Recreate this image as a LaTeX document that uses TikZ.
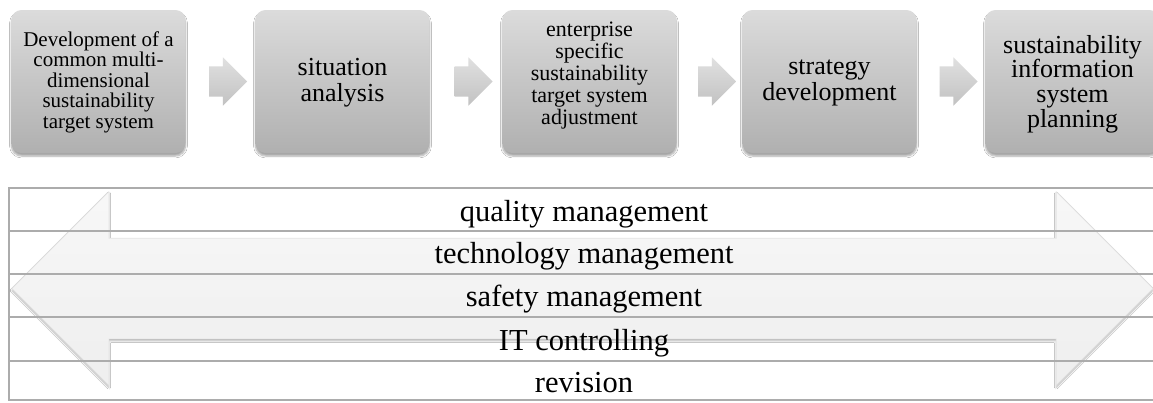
\documentclass[tikz,border=0pt]{standalone}
\usepackage{fontspec}
\setmainfont{Liberation Serif}
\usetikzlibrary{shapes.arrows,shadows.blur,calc}
\begin{document}
\begin{tikzpicture}[x=1pt,y=-1pt,
  stepbox/.style={rectangle, rounded corners=10pt, minimum width=174pt, minimum height=143pt,
    top color=gray!28, bottom color=gray!62, draw=none,
    blur shadow={shadow xshift=0pt, shadow yshift=-3pt, shadow opacity=35, shadow blur steps=6},
    inner sep=0pt},
  boxtext/.style={align=center, text=black, inner sep=0pt},
  flowarrow/.style={single arrow, single arrow head extend=9pt, minimum height=38pt,
    inner xsep=0pt, inner ysep=15pt,
    top color=gray!24, bottom color=gray!48, draw=none},
  bigarrow/.style={double arrow, double arrow head extend=46.5pt, minimum height=1141pt,
    inner xsep=0pt, inner ysep=50pt,
    top color=gray!6, bottom color=gray!13, draw=gray!22, line width=0.6pt,
    blur shadow={shadow xshift=0pt, shadow yshift=-2pt, shadow opacity=30, shadow blur steps=5}},
  tableline/.style={draw=gray!65, line width=1.3pt},
  rowtext/.style={anchor=base, font=\fontsize{30.5}{36}\selectfont, text=black, inner sep=0pt}
]
\useasboundingbox (0,0) rectangle (1153,402);
\fill[white] (0,0) rectangle (1153,402);

% process boxes
\node[stepbox] (b1) at (98.5,81.5) {};
\node[stepbox] (b2) at (342.5,81.5) {};
\node[stepbox] (b3) at (589.5,81.5) {};
\node[stepbox] (b4) at (829.5,81.5) {};
\node[stepbox] (b5) at (1072.5,81.5) {};

% small arrows between boxes
\node[flowarrow] (a1) at ($(b1.east)!0.5!(b2.west)$) {};
\node[flowarrow] (a2) at ($(b2.east)!0.5!(b3.west)$) {};
\node[flowarrow] (a3) at ($(b3.east)!0.5!(b4.west)$) {};
\node[flowarrow] (a4) at ($(b4.east)!0.5!(b5.west)$) {};

% big double arrow
\node[bigarrow] (big) at (582.5,288.5) {};

% table
\draw[tableline] (9,188) rectangle (1170,400);
\draw[tableline] (9,231) -- (1170,231);
\draw[tableline] (9,274) -- (1170,274);
\draw[tableline] (9,317) -- (1170,317);
\draw[tableline] (9,361) -- (1170,361);

% row labels
\node[rowtext] (r1) at (584,221) {quality management};
\node[rowtext] (r2) at (584,263) {technology management};
\node[rowtext] (r3) at (584,306) {safety management};
\node[rowtext] (r4) at (584,350) {IT controlling};
\node[rowtext] (r5) at (584,392) {revision};

% box texts
\node[boxtext, font=\fontsize{21}{20.5}\selectfont] (t1) at (98.5,82)
  {Development of a\\common multi-\\dimensional\\sustainability\\target system};
\node[boxtext, font=\fontsize{26}{26}\selectfont] (t2) at (342.5,83)
  {situation\\analysis};
\node[boxtext, font=\fontsize{22}{22}\selectfont] (t3) at (589.5,76)
  {enterprise\\specific\\sustainability\\target system\\adjustment};
\node[boxtext, font=\fontsize{26}{26}\selectfont] (t4) at (829.5,83)
  {strategy\\development};
\node[boxtext, font=\fontsize{26}{24.7}\selectfont] (t5) at (1072.5,84)
  {sustainability\\information\\system\\planning};
\end{tikzpicture}
\end{document}
